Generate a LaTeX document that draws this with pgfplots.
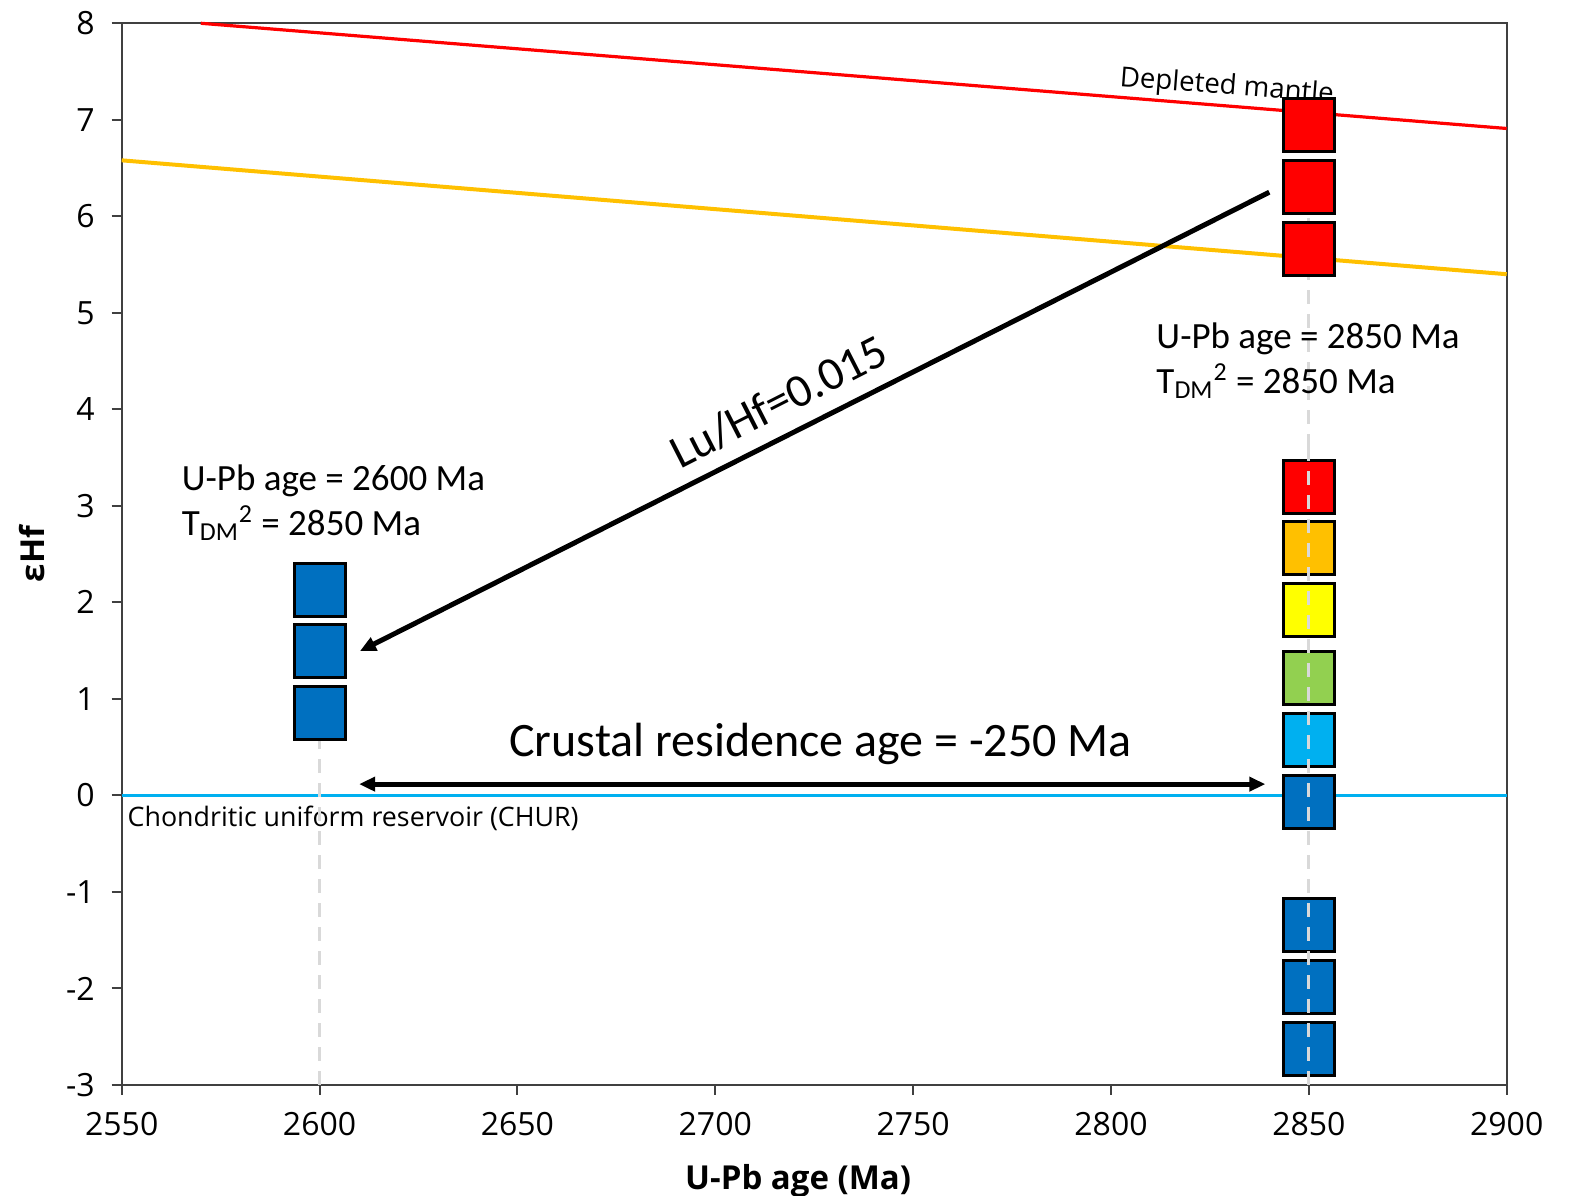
\documentclass[border=0pt]{standalone}
\usepackage{fontspec}
\setmainfont{Open Sans}
\newfontfamily\calib{Carlito}
\usepackage{pgfplots}
\pgfplotsset{compat=1.18}
\usetikzlibrary{arrows.meta}

\definecolor{dmred}{HTML}{FF0000}
\definecolor{orng}{HTML}{FFC000}
\definecolor{yel}{HTML}{FFFF00}
\definecolor{grn}{HTML}{92D050}
\definecolor{sky}{HTML}{00B0F0}
\definecolor{blu}{HTML}{0070C0}
\definecolor{axgray}{HTML}{404040}
\definecolor{dashgray}{HTML}{D9D9D9}

\pgfplotsset{
  sq/.style={only marks, mark=square*, mark size=12.75pt,
    mark options={draw=black, line width=1.5pt, yscale=1.04, fill=#1}},
  guide/.style={dashgray, line width=1.5pt, dash pattern=on 7pt off 5pt},
}
\tikzset{
  note/.style={inner sep=0pt, outer sep=0pt, font=\calib\fontsize{18.5}{22}\selectfont, anchor=base west},
}

\begin{document}
\begin{tikzpicture}
\begin{axis}[
  name=ax, set layers=standard,
  scale only axis, width=692.5pt, height=530.85pt,
  xmin=2550, xmax=2900, ymin=-3, ymax=8,
  xtick={2550,2600,...,2900}, ytick={-3,-2,...,8},
  tick align=outside, xtick pos=left, ytick pos=left,
  major tick length=5pt,
  axis line style={draw=axgray, line width=1pt},
  every tick/.style={draw=axgray, line width=1pt},
  /pgf/number format/assume math mode=true,
  /pgf/number format/1000 sep={},
  xticklabel style={font=\fontsize{16}{19}\selectfont, yshift=-5pt},
  yticklabel style={font=\fontsize{16}{19}\selectfont, xshift=-5pt},
  xlabel={U-Pb age (Ma)}, ylabel={εHf},
  label style={font=\bfseries\fontsize{16.5}{20}\selectfont},
  xlabel style={at={(axis description cs:0.4884,-0.0989)}, anchor=base},
  ylabel style={at={(axis description cs:-0.0645,0.5)}, anchor=center},
  clip=false,
]
% reference curves
\addplot[dmred, line width=1.6pt] coordinates {(2570,8.0) (2900,6.91)};
\addplot[orng, line width=2pt] coordinates {(2550,6.58) (2900,5.40)};
\addplot[sky, line width=1.6pt] coordinates {(2550,0) (2900,0)};

\node[inner sep=0pt, font=\fontsize{13.8}{16}\selectfont, anchor=base west, rotate=-4.5]
  at (axis cs:2802.0,7.35) {Depleted mantle};
\node[inner sep=0pt, font=\fontsize{13.4}{16}\selectfont, anchor=base west]
  at (axis cs:2551.4,-0.325) {Chondritic uniform reservoir (CHUR)};

% zircon at 2600 Ma
\addplot[guide] coordinates {(2600,-3) (2600,1.5)};
\addplot[sq=blu] coordinates {(2600,2.131) (2600,1.497) (2600,0.858)};

% zircon at 2850 Ma
\addplot[sq=dmred] coordinates {(2850,3.195)};
\addplot[sq=orng] coordinates {(2850,2.56)};
\addplot[sq=yel] coordinates {(2850,1.917)};
\addplot[sq=grn] coordinates {(2850,1.218)};
\addplot[sq=sky] coordinates {(2850,0.576)};
\addplot[sq=blu] coordinates {(2850,-0.066) (2850,-1.347) (2850,-1.986) (2850,-2.626)};
\addplot[guide, on layer=axis foreground] coordinates {(2850,-3) (2850,3.6)};
\addplot[guide] coordinates {(2850,3.6) (2850,6.3)};
\addplot[sq=dmred] coordinates {(2850,6.95) (2850,6.30) (2850,5.66)};

% annotations
\draw[line width=2.5pt, -{Triangle[length=8pt,width=7pt]}]
  (axis cs:2840,6.25) -- (axis cs:2610.2,1.495);
\draw[line width=2.5pt, {Triangle[length=8pt,width=7pt]}-{Triangle[length=8pt,width=7pt]}]
  (axis cs:2610,0.117) -- (axis cs:2839,0.117);

\node[inner sep=0pt, font=\calib\fontsize{23.5}{28}\selectfont, anchor=base west, rotate=27]
  at (axis cs:2691.0,3.38) {Lu/Hf=0.015};
\node[inner sep=0pt, font=\calib\fontsize{24}{28}\selectfont, anchor=base]
  at (axis cs:2726.6,0.40) {Crustal residence age = -250 Ma};

\node[note] at (axis cs:2565.2,3.164) {U-Pb age = 2600 Ma};
\node[note] at (axis cs:2565.2,2.698) {T\textsubscript{DM}\textsuperscript{2} = 2850 Ma};
\node[note] at (axis cs:2811.5,4.635) {U-Pb age = 2850 Ma};
\node[note] at (axis cs:2811.5,4.169) {T\textsubscript{DM}\textsuperscript{2} = 2850 Ma};
\end{axis}
\pgfresetboundingbox
\path ([shift={(-60.85pt,-55.5pt)}]ax.south west) rectangle ([shift={(31.15pt,11.65pt)}]ax.north east);
\end{tikzpicture}
\end{document}
